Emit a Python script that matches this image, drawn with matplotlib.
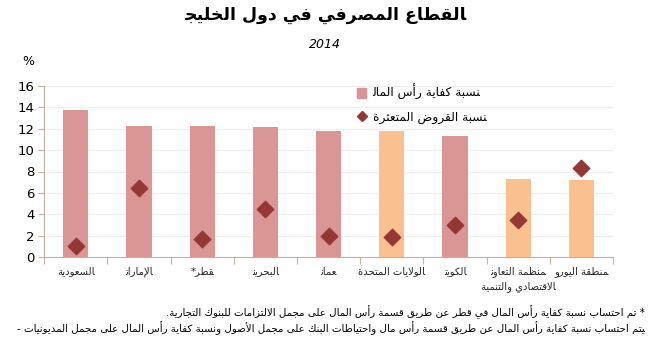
import matplotlib
matplotlib.use("Agg")
import matplotlib.pyplot as plt
import numpy as np

# --- data -----------------------------------------------------------
categories = ["السعودية", "الإمارات", "قطر*", "البحرين", "عمان",
              "الولايات المتحدة", "الكويت", "منظمة التعاون\nالاقتصادي والتنمية",
              "منطقة اليورو"]
capital_ratio = [13.8, 12.3, 12.3, 12.2, 11.8, 11.8, 11.3, 7.3, 7.2]
npl_ratio = [1.0, 6.5, 1.7, 4.5, 2.0, 1.9, 3.0, 3.5, 8.3]
is_gulf = [True, True, True, True, True, False, True, False, False]

title = "القطاع المصرفي في دول الخليج"
subtitle = "2014"
legend_labels = ["نسبة كفاية رأس المال", "نسبة القروض المتعثرة"]
notes = ["* تم احتساب نسبة كفاية رأس المال في قطر عن طريق قسمة رأس المال على مجمل الالتزامات للبنوك التجارية.",
         "يتم احتساب نسبة كفاية رأس المال عن طريق قسمة رأس مال واحتياطات البنك على مجمل الأصول ونسبة كفاية رأس المال على مجمل المديونيات -"]

# --- minimal arabic shaping (matplotlib has no bidi/shaping) ---------
DUAL = "ئبتثجحخسشصضطظعغفقكلمنهي"
RIGHT = "آأؤإاةدذرزوى"
BASE = {'ء': 0xFE80, 'آ': 0xFE81, 'أ': 0xFE83, 'ؤ': 0xFE85, 'إ': 0xFE87, 'ئ': 0xFE89,
        'ا': 0xFE8D, 'ب': 0xFE8F, 'ة': 0xFE93, 'ت': 0xFE95, 'ث': 0xFE99, 'ج': 0xFE9D,
        'ح': 0xFEA1, 'خ': 0xFEA5, 'د': 0xFEA9, 'ذ': 0xFEAB, 'ر': 0xFEAD, 'ز': 0xFEAF,
        'س': 0xFEB1, 'ش': 0xFEB5, 'ص': 0xFEB9, 'ض': 0xFEBD, 'ط': 0xFEC1, 'ظ': 0xFEC5,
        'ع': 0xFEC9, 'غ': 0xFECD, 'ف': 0xFED1, 'ق': 0xFED5, 'ك': 0xFED9, 'ل': 0xFEDD,
        'م': 0xFEE1, 'ن': 0xFEE5, 'ه': 0xFEE9, 'و': 0xFEED, 'ى': 0xFEEF, 'ي': 0xFEF1}
LAM_ALEF = {'آ': 0xFEF5, 'أ': 0xFEF7, 'إ': 0xFEF9, 'ا': 0xFEFB}


def shape_line(text):
    out = []
    i = 0
    n = len(text)
    while i < n:
        c = text[i]
        if c not in BASE:
            out.append(c)
            i += 1
            continue
        prev = text[i - 1] if i > 0 else ''
        joins_prev = prev in DUAL
        if c == 'ل' and i + 1 < n and text[i + 1] in LAM_ALEF:
            out.append(chr(LAM_ALEF[text[i + 1]] + (1 if joins_prev else 0)))
            i += 2
            continue
        nxt = text[i + 1] if i + 1 < n else ''
        joins_next = c in DUAL and (nxt in DUAL or nxt in RIGHT)
        if c in DUAL:
            form = 3 if (joins_prev and joins_next) else 2 if joins_next else 1 if joins_prev else 0
        elif c in RIGHT:
            form = 1 if joins_prev else 0
        else:
            form = 0
        out.append(chr(BASE[c] + form))
        i += 1
    return ''.join(reversed(out))


def ar(text):
    return "\n".join(shape_line(l) for l in text.split("\n"))


# --- plot -----------------------------------------------------------
plt.rcParams['font.family'] = ['DejaVu Sans']

pink = "#D99694"
orange = "#FAC090"
dark_red = "#953735"
axis_col = "#BCB49C"

fig = plt.figure(figsize=(6.5, 3.5), dpi=100)
ax = fig.add_axes([0.068, 0.266, 0.875, 0.488])

x = np.arange(len(categories))
colors = [pink if g else orange for g in is_gulf]
ax.bar(x, capital_ratio, width=0.4, color=colors, zorder=2)
ax.scatter(x, npl_ratio, marker='D', s=70, color=dark_red, zorder=3)

ax.set_xlim(-0.5, len(categories) - 0.5)
ax.set_ylim(0, 16)
ax.set_yticks(range(0, 17, 2))
ax.tick_params(axis='y', labelsize=9.5, length=4, color=axis_col, pad=3)
ax.grid(axis='y', color='#EDEDED', linewidth=0.8, zorder=0)

ax.set_xticks(np.arange(-0.5, len(categories), 1))
ax.set_xticklabels([])
ax.tick_params(axis='x', length=5, color=axis_col)
for i, lab in enumerate(categories):
    ax.text(i, -0.9, ar(lab), ha='center', va='top', fontsize=7.2,
            linespacing=1.5, color='#222222')

for side in ['top', 'right']:
    ax.spines[side].set_visible(False)
for side in ['left', 'bottom']:
    ax.spines[side].set_color(axis_col)

# legend (drawn as proxy handles)
h1 = plt.Rectangle((0, 0), 1, 1, color=pink)
h2 = plt.Line2D([], [], marker='D', color=dark_red, linestyle='none', markersize=5)
ax.legend([h1, h2], [ar(l) for l in legend_labels], loc='upper left',
          bbox_to_anchor=(0.53, 1.075), frameon=False, fontsize=8.8,
          handlelength=0.8, handleheight=0.8, handletextpad=0.5, labelspacing=0.85)

fig.text(0.5, 0.957, ar(title), ha='center', va='center', fontsize=12.5,
         fontweight='bold')
fig.text(0.5, 0.874, subtitle, ha='center', va='center', fontsize=9,
         style='italic')
fig.text(0.043, 0.823, "%", ha='center', va='center', fontsize=9)

fig.text(0.992, 0.108, ar(notes[0]), ha='right', va='center', fontsize=7.4)
fig.text(0.992, 0.063, ar(notes[1]), ha='right', va='center', fontsize=7.4)

fig.savefig("out.png", dpi=100, facecolor='white')
